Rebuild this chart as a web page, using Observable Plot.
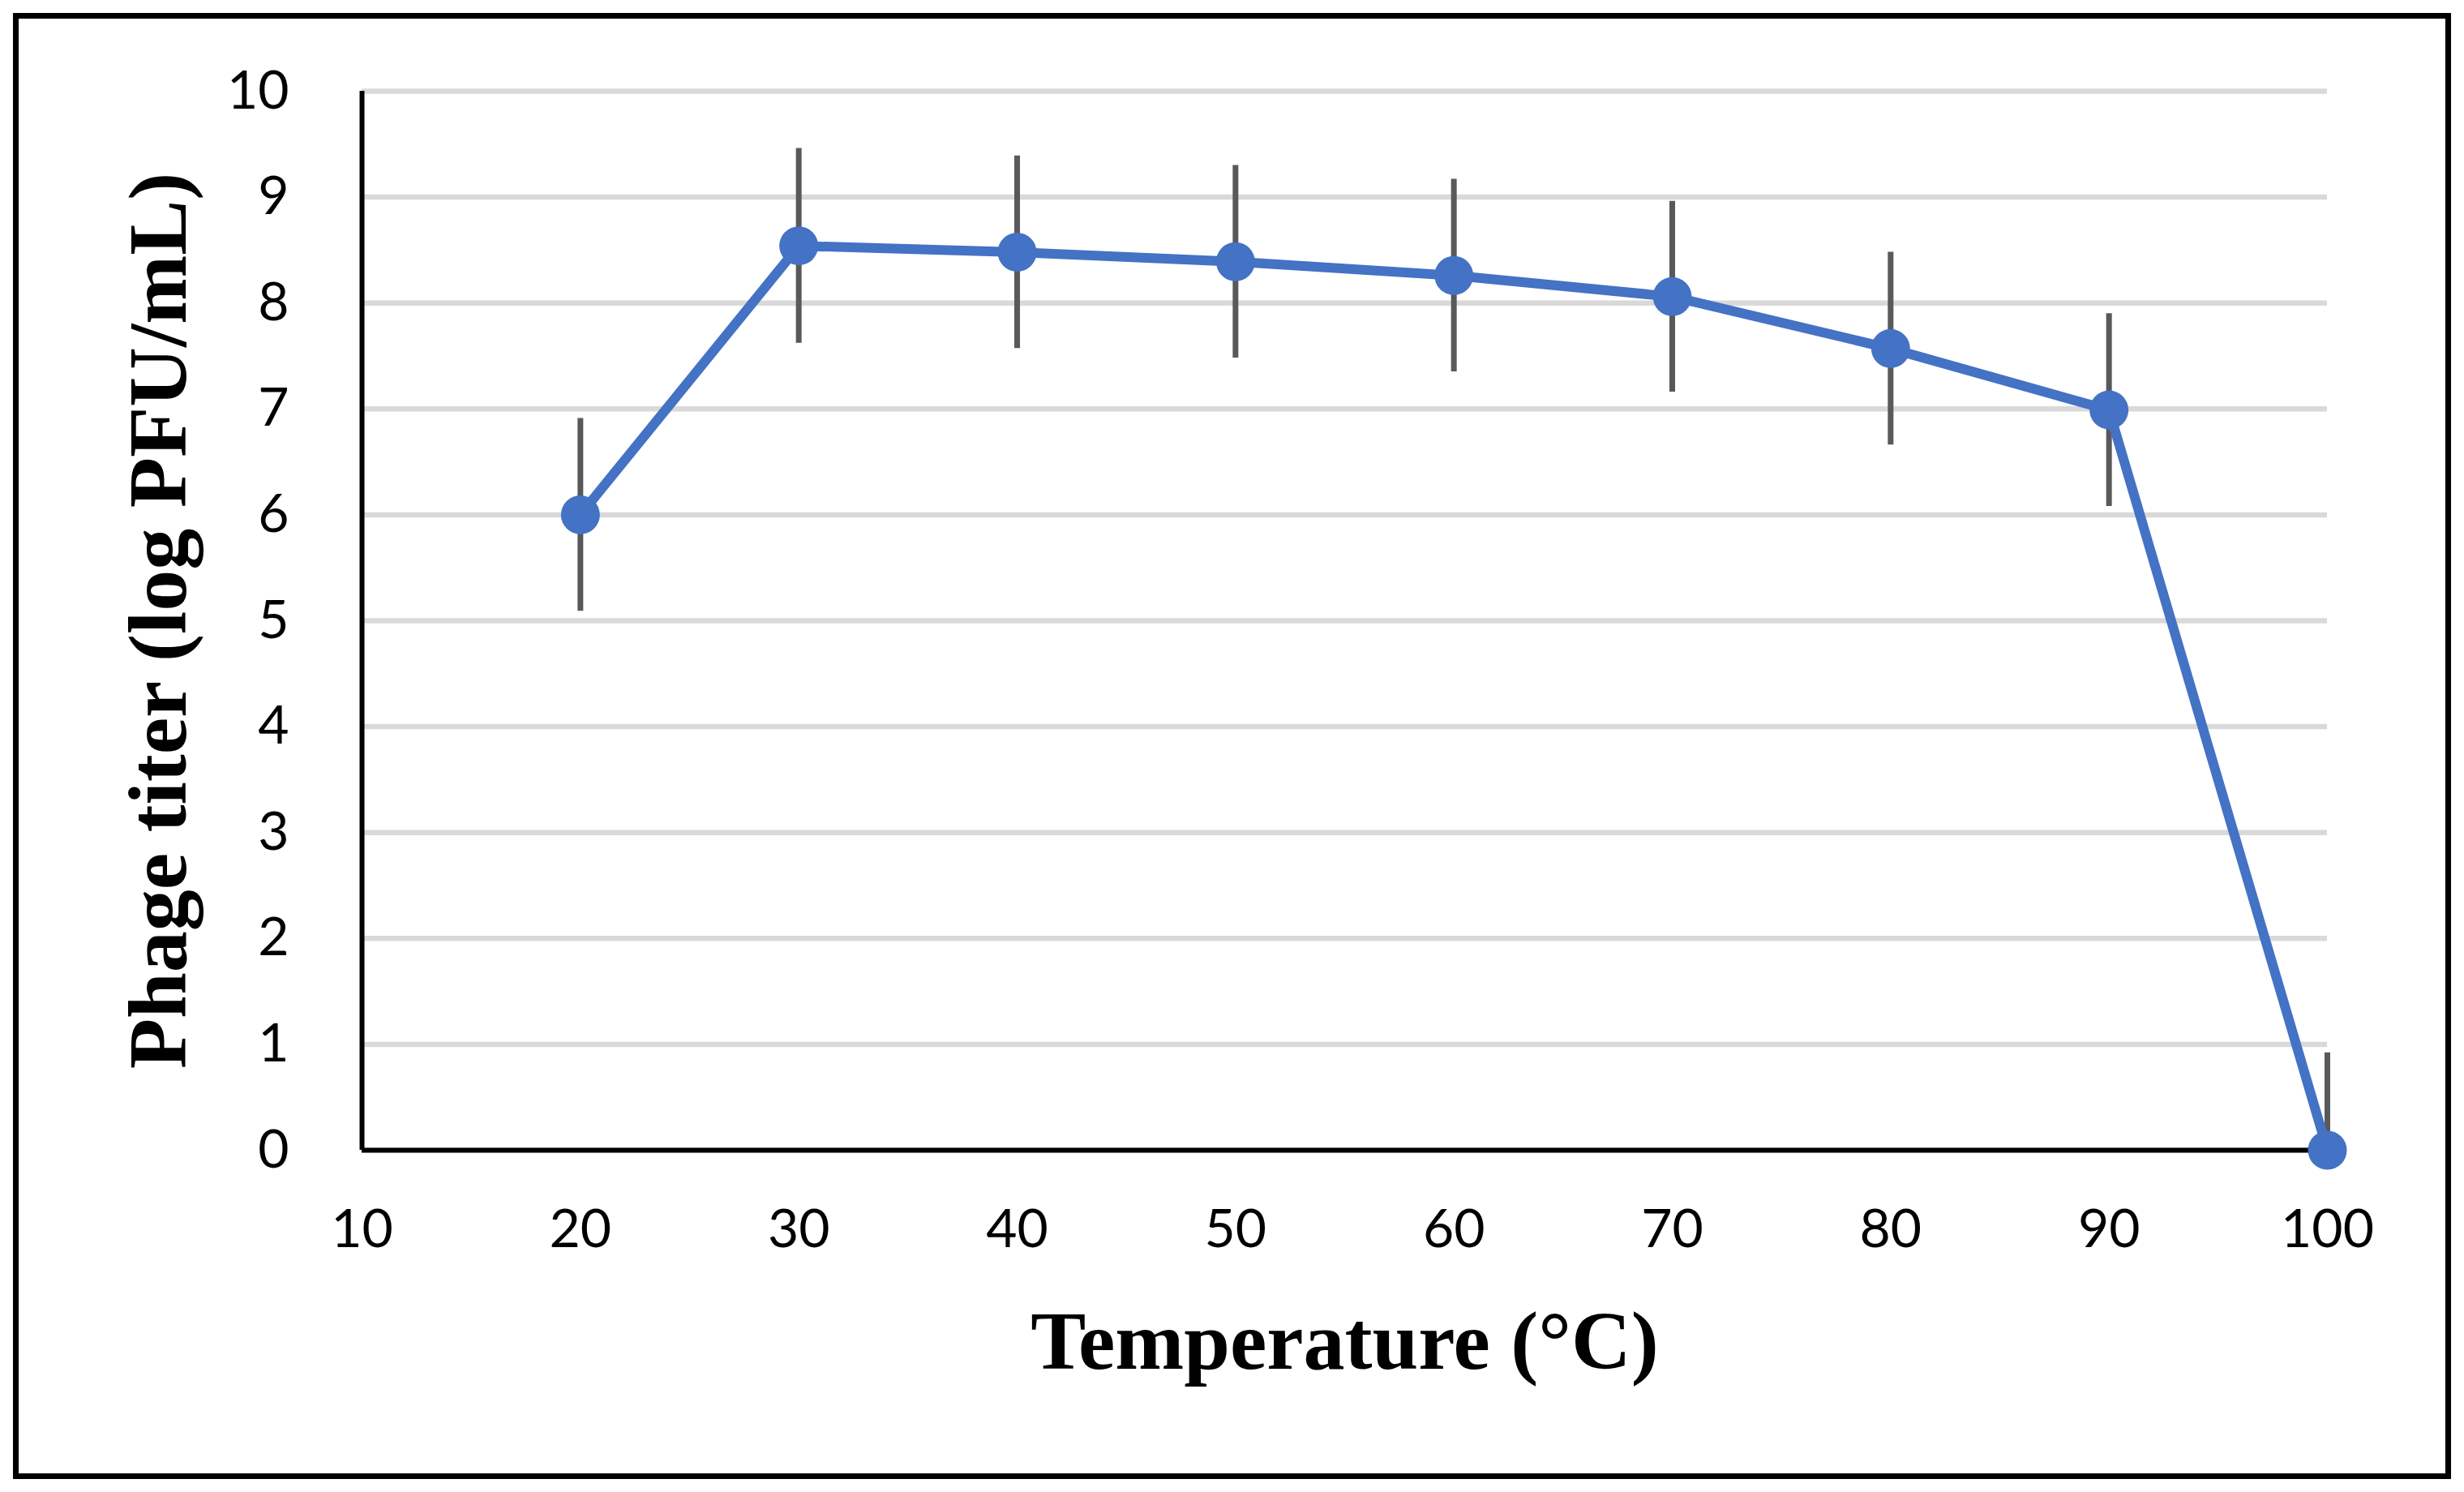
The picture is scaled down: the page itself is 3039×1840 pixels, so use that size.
<!DOCTYPE html>
<html>
<head>
<meta charset="utf-8">
<script src="https://cdn.jsdelivr.net/npm/d3@7"></script>
<script src="https://cdn.jsdelivr.net/npm/@observablehq/plot@0.6"></script>
<style>
  html, body { margin: 0; padding: 0; background: #fff; overflow: hidden; }
  #chart svg { display: block; outline: 7px solid #000; outline-offset: -23px; }
</style>
</head>
<body>
<div id="chart"></div>
<script>
// Data
const temperatures = [20, 30, 40, 50, 60, 70, 80, 90, 100];
const titers = [6.0, 8.54, 8.48, 8.39, 8.26, 8.06, 7.57, 6.99, 0];
const errors = [0.91, 0.92, 0.91, 0.91, 0.91, 0.9, 0.91, 0.91, 0.92];
const xTicks = [10, 20, 30, 40, 50, 60, 70, 80, 90, 100];
const yTicks = [0, 1, 2, 3, 4, 5, 6, 7, 8, 9, 10];
const xTitle = "Temperature (°C)";
const yTitle = "Phage titer (log PFU/mL)";

const rows = temperatures.map((t, i) => ({
  t,
  v: titers[i],
  lo: Math.max(0, titers[i] - errors[i]),
  hi: titers[i] + errors[i]
}));

const W = 3039, H = 1840;
const chart = Plot.plot({
  width: W,
  height: H,
  marginLeft: 446,
  marginRight: W - 2870,
  marginTop: 112,
  marginBottom: H - 1418,
  style: { fontFamily: "Lato", color: "#000", background: "#fff" },
  x: { domain: [10, 100] },
  y: { domain: [0, 10] },
  marks: [
    Plot.gridY(yTicks, { stroke: "#d9d9d9", strokeOpacity: 1, strokeWidth: 6.5 }),
    Plot.ruleY([0], { stroke: "#000", strokeWidth: 6 }),
    Plot.ruleX([10], { y1: 0, y2: 10, stroke: "#000", strokeWidth: 6 }),
    Plot.axisY(yTicks, { tickSize: 0, tickPadding: 90, fontSize: 66, label: null, tickFormat: d => String(d) }),
    Plot.axisX(xTicks, { tickSize: 0, tickPadding: 73, fontSize: 66, label: null, tickFormat: d => String(d) }),
    Plot.ruleX(rows, { x: "t", y1: "lo", y2: "hi", stroke: "#595959", strokeWidth: 7 }),
    Plot.line(rows, { x: "t", y: "v", stroke: "#4472c4", strokeWidth: 12, strokeLinejoin: "round" }),
    Plot.dot(rows, { x: "t", y: "v", r: 24, fill: "#4472c4", stroke: "none" }),
    Plot.text([xTitle], {
      text: d => d, frameAnchor: "bottom", textAnchor: "middle", lineAnchor: "bottom", dy: 269,
      fontFamily: "Liberation Serif", fontWeight: "bold", fontSize: 102, fill: "#000"
    }),
    Plot.text([yTitle], {
      text: d => d, frameAnchor: "left", textAnchor: "middle", lineAnchor: "bottom", rotate: -90, dx: -218,
      fontFamily: "Liberation Serif", fontWeight: "bold", fontSize: 102, fill: "#000"
    })
  ]
});
document.getElementById("chart").appendChild(chart);
</script>
</body>
</html>
